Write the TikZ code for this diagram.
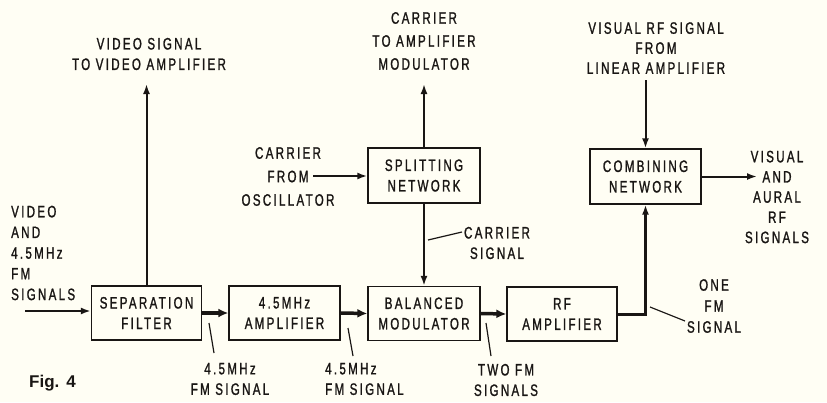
\documentclass[tikz,border=0pt]{standalone}
\usepackage{fontspec}
\setmainfont{Liberation Sans}[FakeStretch=0.7, LetterSpace=14, FakeBold=1.2]
\newfontfamily\figfont{Liberation Sans}[Scale=1]
\usetikzlibrary{arrows.meta}
\definecolor{bg}{RGB}{255,254,244}
\definecolor{ink}{RGB}{25,22,20}
\begin{document}
\begin{tikzpicture}[x=1pt,y=-1pt,
  every node/.style={font=\fontsize{16.5}{20.5}\selectfont, text=ink, inner sep=0pt},
  blk/.style={draw=ink, line width=1.3pt, minimum width=110pt, minimum height=54pt, align=center, fill=bg},
  lbl/.style={align=center},
  tip/.style={-{Latex[length=10pt,width=7pt]}},
  sig/.style={draw=ink, line width=2pt, tip},
  bus/.style={draw=ink, line width=3.5pt, -{Latex[length=10pt,width=9pt]}},
  lead/.style={draw=ink, line width=1.2pt}
]
\path[fill=bg] (0,0) rectangle (827,402);

% blocks
\node[blk] (sep)   at (146.5,313) {SEPARATION\\FILTER};
\node[blk, minimum width=111pt] (amp)   at (284.5,313) {4.5MHz\\AMPLIFIER};
\node[blk, minimum width=112pt] (bal)   at (424,313.5) {BALANCED\\MODULATOR};
\node[blk] (rf)    at (562,314) {RF\\AMPLIFIER};
\node[blk, minimum width=112pt, minimum height=55pt] (split) at (424,175.5) {SPLITTING\\NETWORK};
\node[blk, minimum width=111pt, minimum height=55pt] (comb)  at (645.5,176.5) {COMBINING\\NETWORK};

% free ends
\coordinate (inL)   at (25,311);
\coordinate (vidUp) at (146.5,84);
\coordinate (carUp) at (424,84);
\coordinate (osc)   at (313,176);
\coordinate (visIn) at (645.5,80);
\coordinate (outR)  at (757,176.5);

% labels
\node[lbl] (tVid)  at (149,54) {VIDEO SIGNAL\\TO VIDEO AMPLIFIER};
\node[lbl, font=\fontsize{16.5}{23}\selectfont] (tCar)  at (424,41) {CARRIER\\TO AMPLIFIER\\MODULATOR};
\node[lbl, font=\fontsize{16.5}{20}\selectfont] (tVis)  at (656,48) {VISUAL RF SIGNAL\\FROM\\LINEAR AMPLIFIER};
\node[lbl, font=\fontsize{16.5}{23.5}\selectfont] (tOsc)  at (288,176.5) {CARRIER\\FROM\\OSCILLATOR};
\node[align=left, anchor=west, font=\fontsize{16.5}{20.7}\selectfont] (tIn) at (11,253) {VIDEO\\AND\\4.5MHz\\FM\\SIGNALS};
\node[lbl, font=\fontsize{16.5}{20.2}\selectfont] (tOut) at (777,197) {VISUAL\\AND\\AURAL\\RF\\SIGNALS};
\node[lbl] (tCS)   at (497,243) {CARRIER\\SIGNAL};
\node[lbl] (tF1)   at (230,379) {4.5MHz\\FM SIGNAL};
\node[align=left, anchor=west] (tF2) at (325,379) {4.5MHz\\FM SIGNAL};
\node[lbl] (tTwo)  at (506,380) {TWO FM\\SIGNALS};
\node[lbl, font=\fontsize{16.5}{21}\selectfont] (tOne) at (714,306) {ONE\\FM\\SIGNAL};
\node[anchor=west, font=\figfont\bfseries\fontsize{17}{20}\selectfont] (fig) at (29,383) {Fig.\hspace{7pt}4};

% connectors
\draw[sig] (inL) -- (inL -| sep.west);
\draw[bus] (sep.east) -- (amp.west);
\draw[bus] (amp.east) -- (bal.west);
\draw[bus] (bal.east) -- (rf.west);
\draw[draw=ink, line width=3pt, tip] (rf.east) -| (comb.south);
\draw[sig] (sep.north) -- (vidUp);
\draw[sig] (split.north) -- (carUp);
\draw[sig] (split.south) -- (bal.north);
\draw[sig] (osc) -- (osc -| split.west);
\draw[sig] (visIn) -- (comb.north);
\draw[sig] (comb.east) -- (outR);

% leader lines
\coordinate (l1a) at (209,323); \coordinate (l1b) at (214,353);
\coordinate (l2a) at (348,328); \coordinate (l2b) at (353,356);
\coordinate (l3a) at (486,323); \coordinate (l3b) at (491,356);
\coordinate (l4a) at (650,307); \coordinate (l4b) at (685,321);
\coordinate (l5a) at (428,240); \coordinate (l5b) at (462,232);
\draw[lead] (l1a) -- (l1b);
\draw[lead] (l2a) -- (l2b);
\draw[lead] (l3a) -- (l3b);
\draw[lead] (l4a) -- (l4b);
\draw[lead] (l5a) -- (l5b);
\end{tikzpicture}
\end{document}
